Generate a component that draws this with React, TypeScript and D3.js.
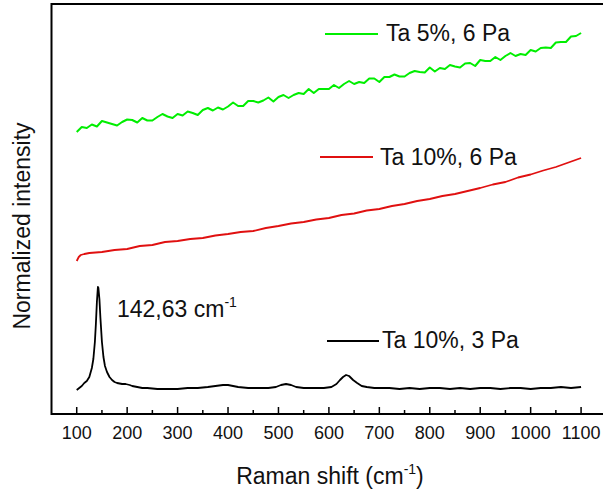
import React from "react";
import * as d3 from "d3";

// ---- data (x: Raman shift in cm-1, y: normalized intensity, arbitrary units) ----
const blackX = [100, 105, 110, 115, 120, 125, 130, 133, 136, 138, 140, 142, 143, 145, 147, 150, 153, 156, 160, 165, 170, 175, 180, 190, 197, 205, 210, 220, 230, 240, 260, 280, 300, 320, 340, 360, 375, 390, 400, 410, 420, 440, 460, 480, 495, 505, 515, 525, 535, 550, 570, 590, 605, 615, 622, 628, 634, 640, 648, 656, 665, 675, 690, 700, 720, 740, 760, 780, 800, 820, 840, 860, 880, 900, 920, 940, 960, 980, 1000, 1020, 1040, 1060, 1080, 1100];
const blackY = [24, 26, 28, 31, 33, 37, 46, 55, 72, 90, 112, 127, 126, 115, 96, 72, 57, 48, 42, 37, 34, 32, 31, 30, 30, 29, 28, 27, 26, 26, 25, 25, 25, 26, 26, 27, 28, 29, 29, 28, 27, 26, 26, 26, 27, 29, 30, 29, 27, 26, 26, 26, 27, 30, 34, 37, 39, 38, 34, 31, 28, 27, 26, 26, 26, 25, 26, 25, 26, 26, 25, 26, 25, 26, 26, 25, 26, 26, 25, 26, 26, 27, 26, 27];

const redX = [100, 104, 108, 115, 125, 150, 175, 200, 225, 250, 275, 300, 325, 350, 375, 400, 425, 450, 475, 500, 525, 550, 575, 600, 625, 650, 675, 700, 725, 750, 775, 800, 825, 850, 875, 900, 925, 950, 975, 1000, 1025, 1050, 1075, 1100];
const redY = [153, 157, 159, 160, 161, 162, 164, 165, 168, 169, 172, 173, 175, 176, 178.5, 180, 182, 183, 186, 188, 190.5, 192, 194.5, 196, 199, 200.5, 203.5, 205, 208, 210, 213, 215, 218, 220, 223, 226, 229.5, 232, 236.5, 239.5, 243.5, 247, 251.5, 256];

const greenX = [100, 110, 120, 130, 140, 150, 160, 170, 180, 190, 200, 210, 220, 230, 240, 250, 260, 270, 280, 290, 300, 310, 320, 330, 340, 350, 360, 370, 380, 390, 400, 410, 420, 430, 440, 450, 460, 470, 480, 490, 500, 510, 520, 530, 540, 550, 560, 570, 580, 590, 600, 610, 620, 630, 640, 650, 660, 670, 680, 690, 700, 710, 720, 730, 740, 750, 760, 770, 780, 790, 800, 810, 820, 830, 840, 850, 860, 870, 880, 890, 900, 910, 920, 930, 940, 950, 960, 970, 980, 990, 1000, 1010, 1020, 1030, 1040, 1050, 1060, 1070, 1080, 1090, 1100];
const greenY = [282, 287, 286, 289.5, 287.5, 293, 291.5, 290, 288.5, 292, 294.5, 294, 291.5, 296, 293.5, 293.5, 297, 300, 297.5, 296, 300, 298.5, 302.5, 301, 299, 304, 306, 303.5, 306.5, 304.5, 307.5, 311.5, 308, 308, 313, 313, 311.5, 313.5, 316.5, 312.5, 317, 319, 316, 319, 321, 320, 325, 321, 325, 325, 325, 329, 326, 330, 333, 330, 332, 331, 335.5, 335.5, 332, 337, 337, 339.5, 337.5, 337.5, 341, 343, 342, 341.5, 346.5, 342.5, 346, 345, 349, 347.5, 346.5, 350.5, 351, 348, 354, 353, 353, 357, 354, 358, 361, 358, 360, 359, 364, 362.5, 366, 366.5, 366, 371.5, 372, 372, 377.5, 378, 381];

const xMajorTicks = [100, 200, 300, 400, 500, 600, 700, 800, 900, 1000, 1100];
const xMinorTicks = [150, 250, 350, 450, 550, 650, 750, 850, 950, 1050];

const seriesNames = ["Ta 5%, 6 Pa", "Ta 10%, 6 Pa", "Ta 10%, 3 Pa"];
const seriesColors = ["#00ee00", "#e01010", "#000000"];
const peakLabel = "142,63 cm";

const W = 603;
const H = 491;
const FONT = "'Liberation Sans', Arial, Helvetica, sans-serif";

export default function App() {
  const x = d3.scaleLinear().domain([50, 1150]).range([51.5, 606.3]);
  const y = d3.scaleLinear().domain([0, 411]).range([414, 3]);

  const mk = (xs: number[], ys: number[]) =>
    d3
      .line<number>()
      .x((_, i) => x(xs[i]))
      .y((d) => y(d))(ys) || "";

  const paths = [mk(greenX, greenY), mk(redX, redY), mk(blackX, blackY)];

  const legends = [
    { x1: 325, x2: 378, ly: 34, tx: 386, ty: 41 },
    { x1: 320, x2: 373, ly: 157, tx: 380, ty: 165 },
    { x1: 327, x2: 379, ly: 341, tx: 382, ty: 348 },
  ];

  return (
    <svg
      width={W}
      height={H}
      style={{ position: "absolute", left: 0, top: 0, background: "#fff" }}
      fontFamily={FONT}
    >
      <rect x={0} y={0} width={W} height={H} fill="#fff" />
      {paths.map((p, i) => (
        <path key={i} d={p} fill="none" stroke={seriesColors[i]} strokeWidth={i === 0 ? 2 : 1.8} strokeLinejoin="round" />
      ))}
      {/* frame */}
      <rect x={51.5} y={4} width={555} height={410} fill="none" stroke="#000" strokeWidth={2} />
      {/* ticks */}
      {xMajorTicks.map((t) => (
        <line key={"M" + t} x1={x(t)} x2={x(t)} y1={414} y2={407} stroke="#000" strokeWidth={1.5} />
      ))}
      {xMinorTicks.map((t) => (
        <line key={"m" + t} x1={x(t)} x2={x(t)} y1={414} y2={410} stroke="#000" strokeWidth={1.5} />
      ))}
      {xMajorTicks.map((t) => (
        <text key={"l" + t} x={x(t)} y={439} fontSize={18} textAnchor="middle" fill="#111">
          {t}
        </text>
      ))}
      {/* axis titles */}
      <text x={330} y={484} fontSize={23} textAnchor="middle" fill="#111">
        Raman shift (cm
        <tspan fontSize={14} dy={-10}>-1</tspan>
        <tspan dy={10}>)</tspan>
      </text>
      <text transform="translate(30,226) rotate(-90)" fontSize={23} textAnchor="middle" fill="#111">
        Normalized intensity
      </text>
      {/* legends */}
      {legends.map((l, i) => (
        <g key={"lg" + i}>
          <line x1={l.x1} x2={l.x2} y1={l.ly} y2={l.ly} stroke={seriesColors[i]} strokeWidth={2} />
          <text x={l.tx} y={l.ty} fontSize={23} fill="#111">
            {seriesNames[i]}
          </text>
        </g>
      ))}
      {/* peak annotation */}
      <text x={117} y={317} fontSize={23} fill="#111">
        {peakLabel}
        <tspan fontSize={14} dy={-10}>-1</tspan>
      </text>
    </svg>
  );
}
